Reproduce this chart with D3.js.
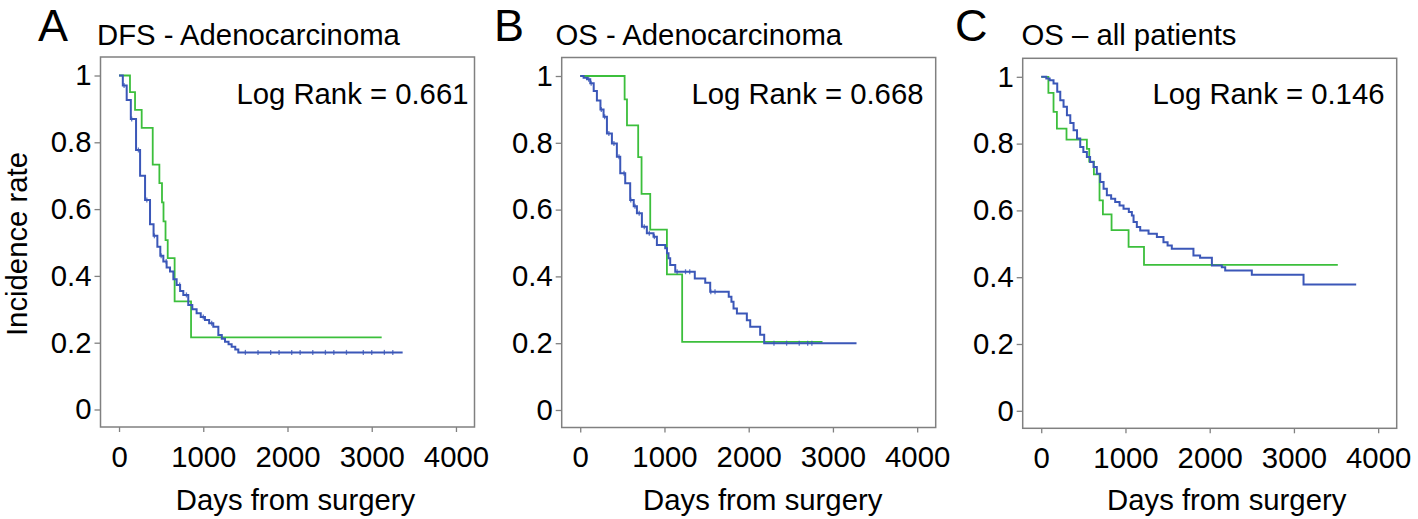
<!DOCTYPE html>
<html>
<head>
<meta charset="utf-8">
<script src="https://cdn.jsdelivr.net/npm/d3@7/dist/d3.min.js"></script>
<style>
  html, body { margin: 0; padding: 0; background: #fff; }
  svg { display: block; }
  text { font-family: "Liberation Sans", Arial, Helvetica, sans-serif; fill: #000; }
</style>
</head>
<body>
<svg id="chart" width="1418" height="519"></svg>
<script>
// ---------------- data ----------------
const panelLetters = ["A", "B", "C"];
const panelTitles = ["DFS - Adenocarcinoma", "OS - Adenocarcinoma", "OS \u2013 all patients"];
const logRankLabels = ["Log Rank = 0.661", "Log Rank = 0.668", "Log Rank = 0.146"];
const xTicks = [0, 1000, 2000, 3000, 4000];
const yTicks = [0, 0.2, 0.4, 0.6, 0.8, 1];
const yTickLabels = ["0", "0.2", "0.4", "0.6", "0.8", "1"];
const xAxisTitle = "Days from surgery";
const yAxisTitle = "Incidence rate";

// Kaplan-Meier steps: [day, survival after step]
const dfsAdenoBlue = [[0,1],[45,0.97],[91,0.927],[140,0.87],[202,0.777],[250,0.70],[309,0.627],[368,0.555],[410,0.52],[455,0.487],[490,0.46],[526,0.443],[565,0.425],[605,0.413],[645,0.39],[684,0.373],[725,0.355],[763,0.343],[822,0.313],[870,0.30],[921,0.288],[970,0.277],[1020,0.268],[1070,0.258],[1119,0.248],[1179,0.223],[1220,0.212],[1258,0.203],[1300,0.195],[1337,0.188],[1380,0.18],[1416,0.171]];
const dfsAdenoBlueEnd = 3367;
const dfsAdenoBlueCensored = [60,150,230,330,420,500,560,720,800,1000,1100,1500,1650,1800,1900,2050,2150,2300,2450,2550,2700,2900,3000,3150,3250];
const dfsAdenoGreen = [[0,1],[130,0.95],[190,0.897],[269,0.843],[400,0.733],[479,0.678],[510,0.62],[528,0.563],[552,0.507],[578,0.453],[660,0.324],[855,0.216]];
const dfsAdenoGreenEnd = 3118;

const osAdenoBlue = [[0,1],[40,0.995],[80,0.99],[119,0.978],[160,0.955],[198,0.927],[240,0.90],[277,0.878],[317,0.828],[376,0.798],[435,0.758],[475,0.709],[534,0.679],[593,0.629],[635,0.61],[673,0.589],[732,0.549],[791,0.529],[870,0.519],[910,0.494],[1009,0.484],[1030,0.469],[1048,0.454],[1068,0.434],[1128,0.414],[1360,0.394],[1484,0.381],[1543,0.354],[1763,0.339],[1795,0.324],[1820,0.304],[1860,0.289],[1978,0.269],[2018,0.249],[2136,0.225],[2184,0.2]];
const osAdenoBlueEnd = 3280;
const osAdenoBlueCensored = [100,130,250,290,340,400,460,520,600,650,700,760,820,880,1150,1250,1300,1550,1600,2300,2450,2600,2700,2750];
const osAdenoGreen = [[0,1],[527,0.93],[555,0.852],[688,0.757],[728,0.647],[831,0.54],[1029,0.406],[1210,0.204]];
const osAdenoGreenEnd = 2876;

const osAllBlue = [[0,1],[60,0.995],[100,0.99],[146,0.98],[190,0.955],[226,0.93],[265,0.91],[305,0.885],[345,0.862],[384,0.84],[425,0.815],[463,0.79],[500,0.775],[542,0.76],[580,0.745],[621,0.73],[660,0.71],[700,0.685],[740,0.665],[779,0.645],[830,0.635],[878,0.625],[930,0.615],[977,0.605],[1040,0.595],[1076,0.585],[1096,0.565],[1135,0.55],[1175,0.54],[1274,0.53],[1373,0.52],[1451,0.505],[1500,0.495],[1550,0.485],[1807,0.465],[1886,0.458],[2026,0.435],[2144,0.43],[2184,0.42],[2500,0.407],[3114,0.378]];
const osAllBlueEnd = 3739;
const osAllBlueCensored = [];
const osAllGreen = [[0,1],[85,0.952],[146,0.895],[186,0.845],[300,0.812],[542,0.784],[570,0.746],[625,0.708],[692,0.63],[732,0.588],[835,0.541],[1037,0.491],[1220,0.437]];
const osAllGreenEnd = 3521;

const blueSeries = [dfsAdenoBlue, osAdenoBlue, osAllBlue];
const blueEnds = [dfsAdenoBlueEnd, osAdenoBlueEnd, osAllBlueEnd];
const blueCensored = [dfsAdenoBlueCensored, osAdenoBlueCensored, osAllBlueCensored];
const greenSeries = [dfsAdenoGreen, osAdenoGreen, osAllGreen];
const greenEnds = [dfsAdenoGreenEnd, osAdenoGreenEnd, osAllGreenEnd];

// ---------------- layout ----------------
const plotLefts = [100.5, 561.7, 1022.7];
const plotTops = [57, 57.5, 58.3];
const plotW = 374, plotH = 370;
const letterX = [38, 494, 955];
const titleX = [97, 555.5, 1021.5];
const logRankX = [468.5, 923.5, 1384.5];
const xTitleOffset = [195, 201, 204];
const FS = 29.3;
const BLUE = "#3b57b8", GREEN = "#3cbf3c", FRAME = "#808080";

const svg = d3.select("#chart");
svg.append("rect").attr("width", 1418).attr("height", 519).attr("fill", "#fff");

const x = d3.scaleLinear().domain([-220, 4220]).range([0, plotW]);
const y = d3.scaleLinear().domain([-0.0524, 1.0554]).range([plotH, 0]);
const line = d3.line().x(d => x(d[0])).y(d => y(d[1])).curve(d3.curveStepAfter);

function survAt(steps, t) {
  let v = steps[0][1];
  for (const s of steps) { if (s[0] <= t) v = s[1]; else break; }
  return v;
}

panelLetters.forEach((letter, i) => {
  const g = svg.append("g").attr("transform", `translate(${plotLefts[i]},${plotTops[i]})`);

  // panel letter and title
  svg.append("text").attr("x", letterX[i]).attr("y", 41).attr("font-size", 45).text(letter);
  svg.append("text").attr("x", titleX[i]).attr("y", 45).attr("font-size", FS).text(panelTitles[i]);

  // axes
  const ya = g.append("g").call(d3.axisLeft(y).tickValues(yTicks).tickFormat((d, k) => yTickLabels[k]).tickSize(6).tickSizeOuter(0).tickPadding(3));
  const xa = g.append("g").attr("transform", `translate(0,${plotH})`)
    .call(d3.axisBottom(x).tickValues(xTicks).tickFormat(d3.format("d")).tickSize(5).tickSizeOuter(0).tickPadding(14));
  [ya, xa].forEach(a => {
    a.select(".domain").remove();
    a.selectAll(".tick line").attr("stroke", FRAME).attr("stroke-width", 1.3);
    a.selectAll(".tick text").attr("font-size", FS).attr("font-family", "Liberation Sans, Arial, sans-serif").attr("fill", "#000");
  });

  // frame
  g.append("rect").attr("width", plotW).attr("height", plotH)
    .attr("fill", "none").attr("stroke", FRAME).attr("stroke-width", 1.5);

  // curves
  const gData = greenSeries[i].concat([[greenEnds[i], greenSeries[i][greenSeries[i].length - 1][1]]]);
  const bData = blueSeries[i].concat([[blueEnds[i], blueSeries[i][blueSeries[i].length - 1][1]]]);
  g.append("path").datum(gData).attr("d", line).attr("fill", "none").attr("stroke", GREEN).attr("stroke-width", 1.8);
  g.append("path").datum(bData).attr("d", line).attr("fill", "none").attr("stroke", BLUE).attr("stroke-width", 2);
  g.selectAll(".cens").data(blueCensored[i]).enter().append("line")
    .attr("x1", d => x(d)).attr("x2", d => x(d))
    .attr("y1", d => y(survAt(blueSeries[i], d)) - 2.5)
    .attr("y2", d => y(survAt(blueSeries[i], d)) + 2.5)
    .attr("stroke", BLUE).attr("stroke-width", 1.3).attr("opacity", 0.8);

  // log rank
  svg.append("text").attr("x", logRankX[i]).attr("y", 104).attr("text-anchor", "end")
    .attr("font-size", FS).text(logRankLabels[i]);

  // x axis title
  svg.append("text").attr("x", plotLefts[i] + xTitleOffset[i]).attr("y", 510)
    .attr("text-anchor", "middle").attr("font-size", FS).text(xAxisTitle);
});

// y axis title (panel A only)
svg.append("text").attr("transform", "translate(27,244) rotate(-90)")
  .attr("text-anchor", "middle").attr("font-size", FS).text(yAxisTitle);
</script>
</body>
</html>
